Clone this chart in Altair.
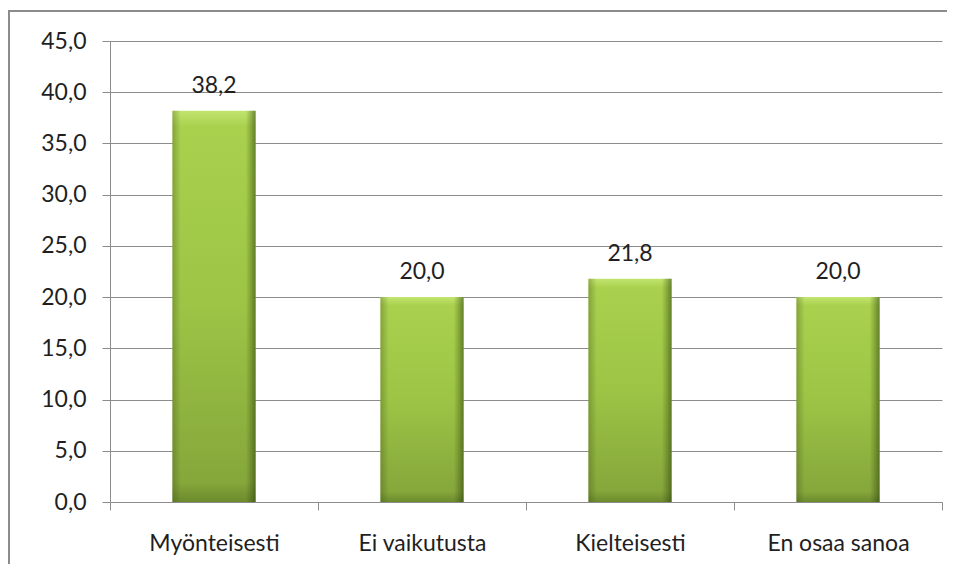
import altair as alt
import pandas as pd

categories = ["Myönteisesti", "Ei vaikutusta", "Kielteisesti", "En osaa sanoa"]
values = [38.2, 20.0, 21.8, 20.0]
y_ticks = [0, 5, 10, 15, 20, 25, 30, 35, 40, 45]

df = pd.DataFrame({"cat": categories, "val": values})
df["label"] = [f"{v:.1f}".replace(".", ",") for v in values]

FONT = "Lato"
GRID = "#8c8c8c"
TXT = "#1f1f1f"
FS = 23

x_enc = alt.X("cat:N", sort=categories,
              scale=alt.Scale(paddingInner=0, paddingOuter=0),
              axis=alt.Axis(title=None, labelAngle=0, tickBand="extent",
                            tickSize=8, labelPadding=22, domainColor=GRID,
                            tickColor=GRID, labelFont=FONT, labelFontSize=FS,
                            labelColor=TXT, grid=False))
y_enc = alt.Y("val:Q", scale=alt.Scale(domain=[0, 45], nice=False),
              axis=alt.Axis(title=None, values=y_ticks, tickSize=8,
                            labelPadding=16, domainColor=GRID, tickColor=GRID,
                            gridColor=GRID, gridOpacity=1, labelFont=FONT,
                            labelFontSize=FS, labelColor=TXT,
                            labelExpr="replace(format(datum.value, '.1f'), '.', ',')"))

base = alt.Chart(df)

bars = base.mark_bar(
    width=alt.RelativeBandSize(0.4),
    color=alt.Gradient(
        gradient="linear", x1=0, y1=0, x2=0, y2=1,
        stops=[alt.GradientStop(color="#c2e56f", offset=0),
               alt.GradientStop(color="#a9d14e", offset=0.04),
               alt.GradientStop(color="#9dc445", offset=0.5),
               alt.GradientStop(color="#85a73b", offset=0.95),
               alt.GradientStop(color="#6c8a2c", offset=1)]),
).encode(x=x_enc, y=y_enc)

shade = base.mark_bar(
    width=alt.RelativeBandSize(0.4),
    color=alt.Gradient(
        gradient="linear", x1=0, y1=0, x2=1, y2=0,
        stops=[alt.GradientStop(color="rgba(60,80,20,0.35)", offset=0),
               alt.GradientStop(color="rgba(60,80,20,0)", offset=0.1),
               alt.GradientStop(color="rgba(60,80,20,0)", offset=0.88),
               alt.GradientStop(color="rgba(40,60,10,0.55)", offset=1)]),
).encode(x=x_enc, y=y_enc)

text = base.mark_text(baseline="alphabetic", dy=-18, font=FONT,
                      fontSize=FS, color=TXT).encode(
    x=alt.X("cat:N", sort=categories), y="val:Q", text="label:N")

border = alt.Chart(pd.DataFrame({"a": [0]})).mark_rect(
    fill=None, stroke="#8c8c8c", strokeWidth=2
).encode(x=alt.value(-101), x2=alt.value(900), y=alt.value(-30),
         y2=alt.value(620))

chart = alt.layer(bars, shade, text, border).properties(
    width=832, height=461,
    autosize="none",
    padding={"left": 102, "top": 33, "right": 5, "bottom": 62},
).configure_view(stroke=None)

chart.save("out.html", embed_options={"renderer": "svg", "actions": False})
